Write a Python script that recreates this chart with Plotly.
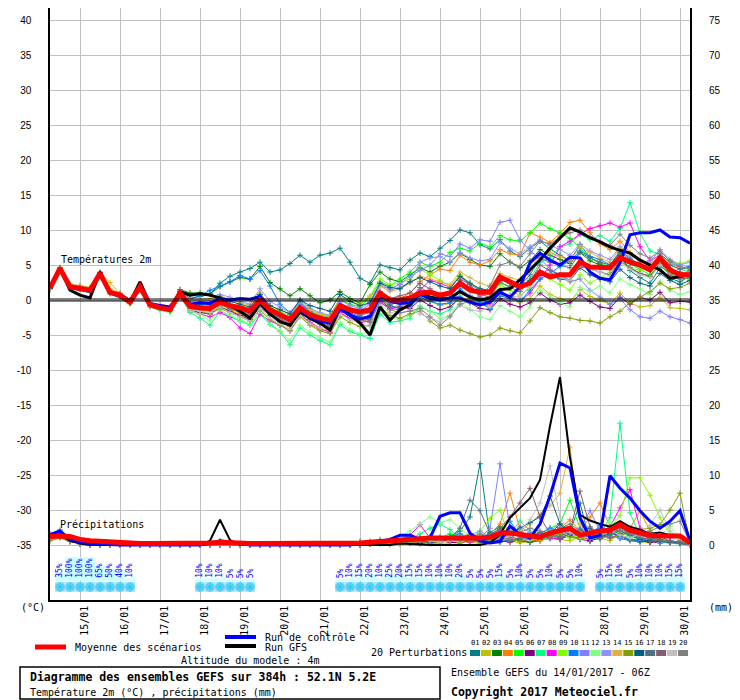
import pandas as pd
import plotly.graph_objects as go

# GEFS ensemble run 14/01/2017 06Z, point 52.1N 5.2E, 6-hourly steps up to 384h
times = pd.date_range("2017-01-14 06:00", periods=65, freq="6h")

member_names = ["01", "02", "03", "04", "05", "06", "07", "08", "09", "10",
                "11", "12", "13", "14", "15", "16", "17", "18", "19", "20"]
member_colors = ["#008080", "#c0c000", "#008000", "#ff8000", "#00ff00",
                 "#800080", "#00ff80", "#ff00ff", "#80ff00", "#0080ff",
                 "#8080ff", "#80ff80", "#9090ff", "#e0b040", "#80a000",
                 "#006080", "#507080", "#806070", "#c0c0c0", "#808080"]

# ---- 2m temperature (°C)
mean_temp = [1.7, 4.5, 1.9, 1.7, 1.4, 3.8, 1.1, 0.7, -0.3, 1.9, -0.7, -1.1, -1.4,
             1.0, -0.9, -1.1, -1.2, -0.3, -0.8, -1.1, -1.6, 0.0, -1.4,
             -2.1, -2.8, -1.1, -2.1, -2.6, -2.9, -0.8, -1.4, -1.7, -1.4,
             1.0, 0.0, 0.0, 0.3, 1.0, 1.1, 0.7, 1.0, 2.4, 1.4,
             1.1, 1.1, 3.3, 2.6, 1.9, 2.4, 4.0, 3.3, 3.6, 3.6,
             5.4, 4.7, 4.7, 4.6, 6.1, 5.4, 5.0, 4.3, 6.0, 4.3,
             3.6, 3.6]
control_temp = [1.8, 4.4, 1.8, 1.5, 1.2, 3.6, 1.0, 0.5, -0.3, 1.6, -0.5, -0.8, -1.0,
                0.9, -0.6, -0.4, -0.5, 0.2, 0.0, 0.2, 0.1, 0.5, -1.3,
                -2.2, -2.9, -1.4, -2.4, -3.0, -3.3, -1.3, -2.2, -2.7, -2.4,
                0.6, -0.2, -0.5, -0.4, 0.8, 0.2, 0.0, 0.3, 0.3, -0.3,
                -0.7, -0.3, 1.1, 0.4, 1.9, 5.3, 6.7, 5.7, 5.0, 6.1,
                6.0, 4.0, 3.1, 2.9, 5.3, 9.3, 9.6, 9.6, 10.0, 9.0,
                8.9, 8.1]
gfs_temp = [1.7, 4.5, 1.4, 0.7, 0.3, 4.0, 1.1, 0.7, -0.3, 2.6, -0.6, -1.0, -1.4,
            1.2, 0.7, 0.9, 0.7, 0.3, -0.8, -1.6, -2.6, -0.5, -2.0,
            -3.1, -3.6, -1.7, -2.6, -3.3, -4.3, -1.1, -2.1, -3.3, -5.0,
            -1.0, -2.9, -1.4, -0.7, 1.0, 0.4, 0.2, 0.3, 1.2, 0.4,
            0.0, 0.3, 1.5, 1.6, 2.9, 4.3, 5.7, 7.4, 8.9, 10.3,
            9.7, 8.9, 8.3, 7.6, 7.1, 6.7, 5.7, 5.0, 4.3, 3.1,
            3.3, 3.6]
members_temp = [
    [1.5, 4.3, 2.0, 1.8, 1.6, 3.5, 1.3, 0.9, 0.0, 2.0, -0.4, -0.8, -1.0,
     1.2, 0.2, 0.5, 0.8, 2.4, 3.4, 4.0, 4.5, 5.4, 4.0,
     4.3, 5.2, 6.4, 5.4, 6.4, 6.7, 7.4, 5.4, 3.1, 2.4,
     5.0, 4.6, 4.3, 5.7, 6.7, 6.2, 7.4, 8.5, 10.0, 9.6,
     7.9, 7.3, 8.6, 7.0, 6.2, 7.4, 8.4, 7.3, 6.4, 5.6,
     7.9, 6.1, 5.2, 4.4, 6.6, 4.2, 3.2, 2.4, 4.6, 3.1,
     2.6, 3.4],
    [1.9, 4.6, 2.2, 2.0, 1.8, 3.9, 2.5, 0.9, -0.1, 2.0, -0.6, -1.0, -1.3,
     0.8, -1.2, -1.5, -1.9, -0.9, -1.5, -2.0, -2.6, -0.8, -2.0,
     -2.8, -3.6, -1.6, -2.7, -3.4, -3.8, -1.5, -2.2, -2.8, -2.6,
     0.2, -1.0, -0.8, -0.6, 0.4, -0.2, -0.8, -0.5, 1.2, 0.2,
     -0.6, -0.9, 1.5, 0.4, -0.4, 0.2, 2.0, 0.8, 0.2, -0.2,
     1.5, 0.5, 0.0, -0.6, 1.0, -0.4, -1.0, -0.8, 0.4, -1.1,
     -1.2, -1.4],
    [1.6, 4.4, 1.8, 1.6, 1.5, 3.9, 1.2, 0.8, -0.2, 2.1, -0.5, -0.9, -1.1,
     1.5, 1.0, 1.0, 0.9, 1.9, 2.6, 3.2, 3.0, 4.8, 2.5,
     1.6, 0.6, 1.6, 0.6, -0.4, 0.0, 1.2, 0.2, -0.4, 2.2,
     4.0, 3.0, 2.6, 3.6, 4.6, 4.0, 4.8, 5.4, 6.7, 5.8,
     5.0, 4.8, 6.6, 5.4, 4.6, 5.6, 7.2, 6.4, 5.8, 5.2,
     6.8, 5.6, 5.0, 4.4, 6.0, 4.6, 3.8, 3.4, 5.2, 4.0,
     3.6, 4.2],
    [1.8, 4.5, 2.0, 1.8, 1.5, 3.8, 1.0, 0.6, -0.4, 1.8, -0.8, -1.2, -1.5,
     0.8, -1.2, -1.4, -1.6, -0.6, -1.3, -1.8, -2.4, -0.4, -2.0,
     -3.0, -3.8, -1.8, -3.4, -4.2, -4.6, -2.0, -2.6, -3.0, -2.8,
     0.8, -0.4, 0.2, 1.0, 2.6, 3.6, 4.4, 4.2, 6.4, 5.4,
     5.0, 5.6, 7.2, 6.6, 6.4, 9.6, 9.0, 8.2, 9.5, 11.1,
     11.4, 9.6, 8.0, 7.2, 8.4, 6.8, 5.6, 4.8, 6.2, 4.6,
     3.8, 4.0],
    [1.6, 4.4, 1.8, 1.5, 1.3, 3.6, 1.1, 0.7, -0.3, 1.8, -0.6, -1.0, -1.2,
     1.1, -0.5, -0.6, -0.8, 0.0, -0.6, -1.0, -1.4, 0.3, -1.0,
     -1.8, -2.5, -0.6, -1.6, -2.2, -2.4, 0.0, -0.6, -1.0, 0.4,
     2.6, 2.0, 3.0, 4.0, 5.4, 4.8, 5.4, 6.8, 7.4, 7.0,
     8.1, 7.6, 9.2, 8.6, 8.4, 9.6, 11.0, 10.2, 9.6, 8.8,
     7.4, 6.0, 5.4, 4.6, 6.4, 5.2, 4.4, 3.6, 5.0, 3.8,
     3.2, 3.0],
    [1.7, 4.5, 1.9, 1.6, 1.3, 3.7, 1.0, 0.6, -0.4, 1.8, -0.8, -1.2, -1.5,
     0.9, -1.4, -1.8, -2.0, -1.0, -1.6, -2.2, -2.8, -1.0, -2.2,
     -3.0, -3.6, -1.6, -2.8, -3.4, -3.8, -1.4, -2.0, -2.6, -2.2,
     0.0, -1.2, -1.0, -1.2, 0.0, -0.8, -1.4, -1.0, 0.4, -0.4,
     -1.2, -1.4, 0.2, -0.6, -1.0, -0.4, 1.0, 0.0, -0.6, -0.4,
     0.7, -0.2, -1.0, -1.2, 0.4, -0.6, 0.4, 0.0, 1.1, -0.4,
     -0.2, -0.3],
    [1.5, 4.3, 1.7, 1.5, 1.2, 3.5, 0.9, 0.5, -0.5, 1.6, -1.0, -1.4, -1.7,
     0.6, -1.8, -2.6, -3.6, -1.6, -2.4, -3.0, -3.6, -2.0, -3.5,
     -4.5, -6.4, -4.0, -5.0, -5.8, -6.4, -3.5, -4.5, -5.0, -5.5,
     -2.0, -3.2, -3.0, -2.6, -1.0, -1.6, -2.0, -1.4, 0.6, -0.4,
     -0.6, 0.2, 2.4, 2.0, 1.6, 3.0, 5.4, 6.0, 7.6, 8.0,
     9.4, 8.6, 9.2, 8.4, 10.2, 13.9, 9.6, 7.0, 6.6, 5.0,
     4.4, 4.0],
    [1.9, 4.6, 2.1, 1.9, 1.5, 3.9, 1.2, 0.8, -0.2, 2.0, -0.6, -1.0, -1.6,
     0.5, -1.6, -2.0, -2.4, -1.8, -2.5, -4.0, -4.8, -2.0, -3.0,
     -3.6, -4.4, -2.2, -3.2, -4.0, -4.6, -1.8, -2.6, -3.2, -3.0,
     -0.4, -1.2, -1.4, -0.8, 1.4, 2.8, 2.4, 1.8, 3.4, 2.2,
     0.4, -0.6, 1.2, 0.6, -0.2, 1.0, 3.0, 5.0, 7.6, 8.4,
     9.4, 10.2, 10.6, 11.0, 10.4, 11.0, 7.6, 5.6, 6.4, 4.4,
     4.0, 3.4],
    [1.6, 4.4, 1.9, 1.7, 1.4, 3.7, 1.0, 0.7, -0.4, 1.8, -0.7, -1.1, -1.4,
     1.0, -0.8, -1.0, -1.0, -0.2, -0.6, -0.8, -1.2, 0.4, -1.0,
     -1.6, -2.2, -0.4, -1.4, -2.0, -2.2, 0.2, -0.2, -0.6, 0.6,
     3.0, 2.2, 2.4, 3.0, 4.4, 3.6, 2.8, 2.0, 3.6, 2.4,
     1.6, 0.8, 2.2, 1.4, 0.6, 1.8, 4.0, 3.0, 2.2, 1.4,
     3.6, 2.4, 3.2, 4.0, 5.6, 4.6, 4.2, 4.6, 6.0, 5.6,
     5.2, 5.6],
    [1.8, 4.5, 2.0, 1.8, 1.4, 3.8, 1.1, 0.8, -0.2, 1.9, -0.6, -1.0, -1.3,
     1.2, 0.2, 0.6, 1.4, 2.0, 2.6, 3.5, 3.0, 4.2, 2.0,
     -0.6, -1.8, -0.4, -1.6, -2.6, -3.0, -1.0, -1.8, -2.4, -2.8,
     0.2, -0.8, -1.2, -1.0, 0.4, -0.2, -0.6, -0.4, 1.6, 0.6,
     -0.4, -1.2, 0.6, 0.2, -0.2, 1.4, 3.0, 3.8, 4.8, 5.6,
     7.0, 6.2, 5.8, 5.0, 7.0, 6.0, 5.0, 4.4, 6.6, 5.4,
     4.6, 4.8],
    [1.7, 4.4, 2.0, 1.7, 1.3, 3.6, 1.2, 0.7, -0.2, 2.2, -0.5, -0.9, -1.2,
     1.4, -0.6, -0.8, -1.0, 0.0, -0.6, -1.2, -1.6, 0.6, -1.2,
     -2.0, -2.8, -0.6, -2.0, -2.6, -3.0, -0.4, -1.2, -1.6, -0.6,
     2.0, 1.6, 2.2, 3.4, 4.2, 5.0, 6.6, 6.2, 8.0, 7.4,
     8.6, 8.4, 11.1, 11.4, 8.6, 7.0, 6.0, 4.4, 3.6, 2.6,
     3.0, 1.4, 0.4, -0.6, 0.2, -1.4, -2.4, -2.6, -1.6, -2.4,
     -2.8, -3.3],
    [1.5, 4.3, 1.8, 1.5, 1.2, 3.6, 0.9, 0.4, -0.6, 1.6, -1.0, -1.5, -1.8,
     0.6, -1.6, -2.0, -3.0, -1.4, -2.2, -2.8, -3.4, -1.6, -3.4,
     -4.4, -5.8, -3.6, -4.6, -5.4, -6.0, -3.2, -4.2, -4.8, -4.6,
     -1.4, -2.6, -2.8, -2.2, -0.8, -1.6, -2.6, -2.2, -0.2, -1.4,
     -2.4, -2.8, -0.8, -1.6, -2.4, -1.0, 1.4, 0.6, -0.4, -1.0,
     1.8, 1.2, 2.0, 1.0, 3.0, 2.2, 1.6, 0.8, 2.6, 1.4,
     0.8, 1.2],
    [1.8, 4.6, 2.1, 1.8, 1.5, 3.9, 1.2, 0.7, -0.2, 2.1, -0.4, -0.8, -1.1,
     1.4, -0.4, -0.4, -0.4, 0.8, 0.4, -0.2, -0.6, 1.6, -0.2,
     -1.0, -1.8, 0.0, -1.2, -1.8, -2.2, 0.0, -0.8, -1.2, -0.4,
     2.4, 1.4, 1.8, 2.6, 5.4, 6.0, 6.2, 5.4, 6.8, 6.0,
     5.6, 5.8, 8.2, 7.4, 6.6, 7.6, 8.6, 7.8, 7.2, 6.4,
     8.0, 7.0, 6.4, 5.8, 7.6, 6.4, 5.6, 5.4, 7.2, 5.8,
     5.0, 5.4],
    [1.9, 4.7, 2.3, 2.1, 1.8, 4.0, 1.6, 1.0, 0.0, 2.2, -0.4, -0.6, -0.9,
     1.3, 0.0, 0.1, 0.2, 0.6, 0.0, -0.4, -0.8, 1.0, -0.8,
     -1.4, -2.0, -0.2, -1.4, -2.0, -2.4, 0.4, -0.2, -0.6, 0.4,
     2.0, 1.2, 1.6, 2.4, 3.4, 3.0, 2.6, 2.2, 4.0, 3.2,
     2.4, 2.0, 3.8, 3.2, 2.8, 4.4, 6.4, 6.8, 6.2, 5.6,
     7.6, 6.8, 6.0, 5.4, 7.4, 6.4, 5.6, 5.0, 6.4, 5.2,
     4.6, 4.6],
    [1.6, 4.4, 1.8, 1.6, 1.3, 3.7, 1.0, 0.6, -0.3, 1.8, -0.8, -1.2, -1.5,
     0.9, -1.2, -1.6, -2.0, -1.2, -1.8, -2.4, -3.0, -1.4, -2.8,
     -3.6, -4.4, -2.4, -3.6, -4.4, -4.8, -2.4, -3.2, -3.8, -3.6,
     -1.0, -2.2, -2.6, -2.0, -1.6, -3.0, -4.0, -3.6, -4.3, -4.8,
     -5.3, -5.0, -4.0, -4.4, -4.7, -3.0, -1.1, -1.8, -2.4, -2.6,
     -2.9, -3.0, -3.3, -2.4, -1.6, -0.4, 0.4, 1.2, 2.4, 1.6,
     1.8, 2.4],
    [1.7, 4.5, 1.9, 1.7, 1.4, 3.8, 1.1, 0.7, -0.3, 1.9, -0.7, -1.1, -1.4,
     1.0, -0.6, -0.6, -0.6, 0.4, -0.2, -0.6, -1.0, 0.8, -0.8,
     -1.4, -2.0, 0.0, -0.8, -1.2, -1.6, 0.8, -0.2, -0.8, -0.4,
     2.4, 1.8, 1.6, 2.6, 3.2, 2.6, 2.0, 1.6, 3.4, 2.4,
     1.6, 1.4, 3.0, 2.4, 1.8, 2.8, 4.2, 3.6, 3.0, 2.8,
     4.6, 3.6, 3.0, 2.6, 4.4, 3.2, 2.4, 2.0, 3.8, 2.8,
     2.2, 2.8],
    [1.8, 4.4, 1.8, 1.6, 1.3, 3.7, 1.0, 0.6, -0.4, 1.8, -0.8, -1.2, -1.5,
     0.9, -1.0, -1.2, -1.4, -0.6, -1.2, -1.6, -2.2, -0.4, -1.8,
     -2.6, -3.4, -1.4, -2.6, -3.2, -3.6, -1.2, -2.0, -2.6, -2.8,
     0.6, -0.6, -0.4, 0.0, 1.8, 1.0, 0.4, 0.8, 3.0, 2.2,
     1.4, 1.0, 3.4, 2.6, 2.0, 3.6, 6.0, 5.4, 5.0, 4.6,
     6.8, 6.0, 5.4, 5.0, 6.8, 5.8, 5.0, 4.6, 6.2, 5.0,
     4.4, 4.6],
    [1.6, 4.4, 1.9, 1.6, 1.4, 3.9, 1.1, 0.8, -0.3, 2.0, -0.6, -1.0, -1.3,
     1.0, -0.8, -1.0, -1.2, -0.4, -1.0, -1.4, -2.0, -0.2, -1.6,
     -2.4, -3.2, -1.2, -2.2, -2.8, -3.4, -0.8, -1.6, -2.2, -1.8,
     1.2, 0.2, 0.6, 1.0, 2.4, 1.6, 0.8, 1.2, 2.8, 1.8,
     0.8, 0.4, 2.6, 1.8, 1.2, 2.6, 5.0, 4.2, 3.6, 2.8,
     4.8, 4.4, 4.0, 3.6, 5.6, 4.6, 3.8, 3.4, 5.0, 3.6,
     3.0, 3.2],
    [1.5, 4.3, 1.7, 1.5, 1.2, 3.5, 0.9, 0.5, -0.5, 1.7, -0.9, -1.3, -1.6,
     0.7, -1.4, -1.6, -1.8, -1.0, -1.8, -2.4, -3.0, -1.2, -2.6,
     -3.4, -4.2, -2.2, -3.4, -4.0, -4.4, -2.0, -2.8, -3.4, -3.8,
     -0.6, -1.8, -2.0, -1.4, -2.0, -2.6, -3.1, -2.2, -0.8, -1.4,
     -1.6, -1.0, 1.0, 0.6, 0.4, 2.0, 4.2, 3.6, 3.2, 2.8,
     5.0, 4.4, 4.0, 3.4, 5.4, 4.4, 3.6, 3.2, 5.0, 4.0,
     3.6, 3.8],
    [1.7, 4.5, 1.8, 1.6, 1.4, 3.8, 1.0, 0.6, -0.4, 1.9, -0.7, -1.1, -1.4,
     1.0, -0.9, -1.1, -1.3, -0.5, -1.1, -1.5, -2.0, -0.2, -1.6,
     -2.6, -3.4, -1.6, -2.8, -3.4, -3.8, -1.4, -2.2, -2.8, -3.2,
     -0.2, -1.4, -1.8, -1.6, -1.2, -2.4, -3.6, -2.4, -0.6, -0.2,
     0.6, 2.0, 5.0, 5.4, 4.8, 6.6, 8.4, 8.0, 9.0, 9.6,
     10.0, 9.0, 8.4, 7.8, 9.4, 7.8, 6.6, 6.0, 7.0, 5.6,
     4.8, 4.4],
]

# ---- precipitation per 6h step (mm)
mean_precip = [1.2, 1.3, 1.2, 0.8, 0.6, 0.5, 0.4, 0.3, 0.2, 0.2,
               0.2, 0.2, 0.2, 0.2, 0.2, 0.2, 0.3, 0.4, 0.3, 0.2,
               0.2, 0.2, 0.2, 0.2, 0.2, 0.2, 0.2, 0.2, 0.2,
               0.3, 0.3, 0.3, 0.4, 0.5, 0.6, 0.8, 0.8, 0.9, 1.0,
               1.0, 1.0, 1.0, 0.9, 1.0, 1.1, 1.7, 1.7, 1.5, 1.3,
               1.1, 1.7, 2.1, 2.4, 1.4, 1.7, 2.0, 2.1, 2.9, 2.1,
               1.7, 1.4, 1.3, 1.3, 1.3, 0.3]
control_precip = [1.5, 2.0, 0.8, 0.4, 0.2, 0.1, 0, 0, 0, 0,
                  0, 0, 0, 0, 0, 0, 0.2, 0.6, 0.4, 0.2,
                  0, 0, 0, 0, 0, 0, 0, 0, 0,
                  0, 0, 0.2, 0.3, 0.5, 0.8, 1.4, 1.4, 0.8, 1.0,
                  4.1, 4.6, 4.6, 1.7, 0.6, 0.3, 0.5, 2.7, 1.5, 1.0,
                  3.0, 7.0, 11.7, 11.0, 3.9, 1.0, 1.4, 9.9, 8.1, 6.7,
                  4.9, 3.4, 2.4, 3.4, 4.9, 0.6]
gfs_precip = [1.2, 1.5, 0.6, 0.2, 0, 0, 0, 0, 0, 0,
              0, 0, 0, 0, 0, 0, 0.6, 3.6, 0.7, 0,
              0, 0, 0, 0, 0, 0, 0, 0, 0,
              0, 0, 0, 0, 0.1, 0, 0.2, 0.1, 0, 0,
              0, 0, 0, 0, 0, 0.3, 1.5, 3.9, 5.3, 6.7,
              9.3, 17.0, 24.0, 12.5, 4.3, 3.5, 3.0, 2.6, 3.4, 2.6,
              2.2, 1.6, 1.8, 1.4, 1.2, 0.2]
members_precip = [
    [1.0, 1.6, 0.7, 0.3, 0.1, 0, 0, 0, 0, 0,
     0, 0, 0, 0, 0, 0, 0, 0.3, 0.2, 0,
     0, 0, 0, 0, 0, 0, 0, 0, 0,
     0, 0, 0.2, 0.4, 0.6, 0.3, 0.2, 0.5, 0.8, 0.4,
     0.6, 1.2, 2.0, 4.0, 11.6, 1.0, 0.4, 0.8, 0.6, 0.4,
     0.6, 1.2, 2.5, 1.8, 6.0, 0.5, 1.5, 2.2, 0.9, 0.6,
     0.4, 0.8, 0.5, 0.3, 0.6, 0],
    [0.8, 1.2, 0.5, 0.2, 0, 0, 0, 0, 0, 0,
     0, 0, 0, 0, 0, 0, 0, 0, 0, 0,
     0, 0, 0, 0, 0, 0, 0, 0, 0,
     0, 0, 0, 0.2, 0.3, 0, 0, 0.3, 0.5, 0.2,
     0.2, 0.3, 0.6, 0.4, 0.2, 0.8, 1.2, 0.6, 0.3, 0.5,
     1.0, 1.4, 0.8, 0.6, 1.2, 1.8, 1.0, 0.6, 1.6, 0.8,
     0.5, 0.3, 0.6, 0.4, 0.3, 0],
    [1.2, 1.4, 0.6, 0.2, 0, 0, 0, 0, 0, 0,
     0, 0, 0, 0, 0, 0, 0, 0.4, 0.3, 0.1,
     0, 0, 0, 0, 0, 0, 0, 0, 0,
     0, 0.2, 0.5, 0.3, 0.2, 0.4, 0.6, 1.0, 0.6, 0.3,
     0.4, 0.8, 1.2, 0.8, 0.6, 1.8, 2.6, 1.4, 0.6, 0.4,
     0.8, 1.6, 3.0, 2.2, 1.0, 1.6, 2.4, 1.8, 1.2, 0.8,
     0.6, 0.4, 0.8, 0.5, 0.4, 0.1],
    [1.4, 2.2, 0.8, 0.3, 0.1, 0, 0, 0, 0, 0,
     0, 0, 0, 0, 0, 0, 0, 0, 0, 0,
     0, 0, 0, 0, 0, 0, 0, 0, 0,
     0, 0, 0, 0.2, 0.3, 0.5, 0.3, 0.2, 0.4, 0.6,
     0.8, 1.0, 0.6, 0.4, 0.8, 1.6, 3.0, 7.4, 2.2, 0.8,
     0.6, 1.0, 2.4, 3.6, 2.0, 4.0, 6.0, 2.6, 1.6, 2.4,
     4.9, 2.0, 0.6, 0.4, 0.3, 0],
    [1.0, 1.5, 0.6, 0.2, 0, 0, 0, 0, 0, 0,
     0, 0, 0, 0, 0, 0, 0, 0.5, 0.3, 0.1,
     0, 0, 0, 0, 0, 0, 0, 0, 0,
     0, 0, 0.3, 0.4, 0.2, 0.5, 0.8, 0.6, 0.4, 0.6,
     1.0, 1.6, 1.2, 0.8, 0.6, 0.8, 1.4, 2.0, 1.2, 1.0,
     1.6, 2.4, 3.0, 6.4, 2.4, 1.0, 0.8, 1.4, 2.0, 1.2,
     0.8, 1.2, 0.8, 0.6, 0.4, 0],
    [0.9, 1.2, 0.5, 0.2, 0, 0, 0, 0, 0, 0,
     0, 0, 0, 0, 0, 0, 0, 0, 0, 0,
     0, 0, 0, 0, 0, 0, 0, 0, 0,
     0, 0, 0, 0.2, 0.3, 0.2, 0.4, 0.3, 0.2, 0.4,
     0.6, 0.4, 0.3, 0.6, 0.8, 1.0, 0.6, 0.4, 0.8, 1.2,
     1.6, 1.0, 0.8, 1.4, 0.8, 0.6, 1.0, 1.8, 1.2, 0.8,
     0.6, 0.4, 0.3, 0.4, 0.2, 0],
    [1.1, 1.8, 0.7, 0.3, 0.1, 0, 0, 0, 0, 0,
     0, 0, 0, 0, 0, 0, 0, 0, 0, 0,
     0, 0, 0, 0, 0, 0, 0, 0, 0,
     0, 0, 0.2, 0.3, 0.5, 0.4, 0.3, 0.8, 1.6, 2.4,
     3.0, 2.2, 1.0, 0.6, 0.4, 0.8, 1.2, 1.6, 3.4, 2.0,
     1.0, 0.8, 1.4, 2.6, 1.2, 0.8, 1.6, 3.9, 17.4, 4.6,
     1.2, 0.6, 0.4, 0.3, 0.2, 0],
    [1.3, 1.7, 0.6, 0.2, 0, 0, 0, 0, 0, 0,
     0, 0, 0, 0, 0, 0, 0, 0, 0, 0,
     0, 0, 0, 0, 0, 0, 0, 0, 0,
     0, 0, 0, 0.3, 0.6, 0.4, 0.8, 1.4, 2.9, 1.0,
     0.4, 0.6, 0.8, 0.4, 0.6, 1.0, 1.6, 1.0, 0.6, 0.8,
     1.4, 1.0, 0.8, 1.6, 1.2, 0.8, 1.8, 2.6, 5.3, 7.9,
     2.4, 1.0, 0.6, 0.4, 0.3, 0],
    [1.0, 1.4, 0.6, 0.2, 0, 0, 0, 0, 0, 0,
     0, 0, 0, 0, 0, 0, 0, 0, 0, 0,
     0, 0, 0, 0, 0, 0, 0, 0, 0,
     0, 0, 0.2, 0.2, 0.4, 0.3, 0.5, 0.4, 0.6, 0.8,
     1.0, 0.6, 0.4, 0.8, 2.0, 3.8, 5.0, 0.8, 0.6, 1.0,
     1.4, 2.2, 1.6, 1.0, 1.4, 2.0, 1.6, 2.4, 4.2, 9.6,
     9.6, 7.1, 3.9, 1.6, 0.8, 0],
    [1.6, 2.0, 1.0, 0.4, 0.1, 0, 0, 0, 0, 0,
     0, 0, 0, 0, 0, 0, 0, 0.6, 0.5, 0.2,
     0, 0, 0, 0, 0, 0, 0, 0, 0,
     0, 0, 0, 0.2, 0.4, 0.6, 0.3, 0.5, 0.8, 0.6,
     0.8, 1.2, 1.6, 1.0, 0.8, 1.6, 2.2, 3.4, 1.4, 0.8,
     1.6, 2.4, 1.8, 1.2, 0.8, 1.4, 2.8, 2.0, 1.2, 0.8,
     0.6, 0.8, 1.2, 0.6, 0.4, 0],
    [1.2, 1.5, 0.6, 0.2, 0, 0, 0, 0, 0, 0,
     0, 0, 0, 0, 0, 0, 0, 0, 0, 0,
     0, 0, 0, 0, 0, 0, 0, 0, 0,
     0, 0, 0.3, 0.5, 0.8, 0.6, 0.4, 0.6, 1.0, 0.8,
     0.6, 0.8, 1.2, 0.8, 1.0, 2.4, 11.6, 2.4, 1.0, 0.8,
     1.2, 1.6, 2.0, 1.6, 2.4, 4.9, 2.0, 1.2, 1.0, 1.4,
     0.8, 0.6, 0.4, 0.6, 0.3, 0],
    [1.0, 1.3, 0.5, 0.2, 0, 0, 0, 0, 0, 0,
     0, 0, 0, 0, 0, 0, 0, 0, 0, 0,
     0, 0, 0, 0, 0, 0, 0, 0, 0,
     0, 0, 0.2, 0.4, 0.6, 0.8, 1.2, 2.0, 3.0, 4.0,
     3.2, 3.6, 2.4, 1.2, 0.8, 1.0, 1.6, 2.4, 1.4, 0.8,
     1.0, 1.4, 2.0, 1.2, 0.8, 1.2, 2.2, 3.2, 1.8, 1.2,
     1.0, 0.8, 1.4, 2.6, 1.2, 0],
    [1.1, 1.6, 0.6, 0.3, 0, 0, 0, 0, 0, 0,
     0, 0, 0, 0, 0, 0, 0, 0, 0, 0,
     0, 0, 0, 0, 0, 0, 0, 0, 0,
     0, 0, 0, 0.2, 0.4, 0.3, 0.5, 0.8, 0.6, 0.4,
     0.6, 0.8, 1.0, 1.4, 2.0, 1.2, 0.8, 1.6, 2.6, 1.8,
     1.2, 2.0, 3.0, 2.0, 1.4, 2.4, 1.8, 1.2, 3.0, 2.0,
     1.2, 0.8, 0.6, 0.4, 0.3, 0],
    [1.3, 1.8, 0.7, 0.3, 0, 0, 0, 0, 0, 0,
     0, 0, 0, 0, 0, 0, 0, 0, 0, 0,
     0, 0, 0, 0, 0, 0, 0, 0, 0,
     0, 0, 0.3, 0.5, 0.4, 0.3, 0.6, 0.4, 0.8, 1.0,
     0.6, 0.8, 1.2, 1.6, 1.0, 0.8, 1.4, 1.2, 2.0, 3.0,
     4.4, 5.6, 7.4, 14.0, 3.0, 1.6, 1.2, 2.0, 2.8, 1.8,
     1.0, 0.8, 0.6, 0.5, 0.4, 0],
    [0.6, 1.0, 0.5, 0.2, 0, 0, 0, 0, 0, 0,
     0, 0, 0, 0, 0, 0, 0, 0, 0, 0,
     0, 0, 0, 0, 0, 0, 0, 0, 0,
     0, 0, 0, 0.2, 0.3, 0.2, 0.4, 0.3, 0.5, 0.3,
     0.4, 0.6, 0.8, 0.6, 0.4, 0.6, 1.0, 0.8, 0.6, 0.8,
     1.0, 1.2, 1.6, 1.2, 0.8, 1.2, 1.6, 1.0, 1.4, 1.8,
     2.2, 2.4, 2.9, 5.0, 7.4, 0.3],
    [1.2, 1.6, 0.7, 0.2, 0, 0, 0, 0, 0, 0,
     0, 0, 0, 0, 0, 0, 0, 0, 0, 0,
     0, 0, 0, 0, 0, 0, 0, 0, 0,
     0, 0, 0.2, 0.3, 0.5, 0.4, 0.6, 0.8, 0.6, 0.4,
     0.5, 0.8, 1.0, 1.4, 1.0, 0.8, 1.2, 1.6, 2.4, 3.2,
     4.0, 7.0, 3.0, 1.6, 2.0, 2.4, 1.2, 1.6, 2.0, 1.4,
     0.8, 0.6, 0.5, 0.4, 0.3, 0],
    [1.0, 1.3, 0.6, 0.2, 0, 0, 0, 0, 0, 0,
     0, 0, 0, 0, 0, 0, 0, 0, 0, 0,
     0, 0, 0, 0, 0, 0, 0, 0, 0,
     0, 0, 0.2, 0.3, 0.4, 0.6, 0.4, 0.8, 1.0, 1.2,
     0.8, 1.0, 2.4, 6.4, 4.9, 1.6, 0.8, 0.6, 1.0, 1.4,
     1.8, 1.4, 1.0, 1.6, 2.2, 1.4, 1.0, 1.4, 2.4, 1.6,
     1.0, 0.8, 0.6, 0.5, 0.3, 0],
    [0.9, 1.2, 0.5, 0.2, 0, 0, 0, 0, 0, 0,
     0, 0, 0, 0, 0, 0, 0, 0, 0, 0,
     0, 0, 0, 0, 0, 0, 0, 0, 0,
     0, 0, 0, 0.2, 0.3, 0.4, 0.3, 0.5, 0.4, 0.6,
     0.8, 0.6, 0.8, 1.2, 0.8, 1.4, 2.4, 4.0, 6.0, 8.1,
     4.0, 1.6, 1.2, 2.0, 7.7, 2.6, 1.4, 1.0, 1.6, 2.0,
     1.4, 1.0, 0.8, 0.6, 0.4, 0],
    [1.1, 1.4, 0.6, 0.2, 0, 0, 0, 0, 0, 0,
     0, 0, 0, 0, 0, 0, 0, 0, 0, 0,
     0, 0, 0, 0, 0, 0, 0, 0, 0,
     0, 0, 0.2, 0.3, 0.5, 0.4, 0.3, 0.6, 0.8, 0.6,
     0.4, 0.6, 0.8, 1.0, 1.4, 1.0, 0.8, 1.2, 2.0, 3.6,
     6.0, 11.3, 4.0, 1.8, 1.2, 1.0, 1.6, 2.0, 1.4, 1.0,
     1.6, 2.8, 5.0, 2.0, 1.0, 0],
    [1.0, 1.5, 0.6, 0.3, 0, 0, 0, 0, 0, 0,
     0, 0, 0, 0, 0, 0, 0, 0, 0, 0,
     0, 0, 0, 0, 0, 0, 0, 0, 0,
     0, 0, 0.3, 0.4, 0.6, 0.5, 0.4, 0.6, 0.8, 1.0,
     1.2, 0.8, 0.6, 1.0, 1.6, 1.2, 0.8, 1.0, 1.8, 2.4,
     2.0, 1.6, 2.4, 3.0, 2.0, 1.4, 1.8, 2.6, 2.0, 1.6,
     1.4, 2.0, 2.6, 3.0, 3.4, 0.4],
]

# ---- probability of snow (%) at the 6h steps where it is given
snow_steps = [1, 2, 3, 4, 5, 6, 7, 8,
              15, 16, 17, 18, 19, 20,
              29, 30, 31, 32, 33, 34, 35, 36, 37, 38, 39, 40, 41,
              42, 43, 44, 45, 46, 47, 48, 49, 50, 51, 52, 53,
              55, 56, 57, 58, 59, 60, 61, 62, 63]
snow_pct = [35, 100, 100, 100, 65, 50, 40, 10,
            10, 10, 10, 5, 5, 5,
            5, 10, 15, 20, 10, 25, 20, 15, 15, 10, 10, 10, 20,
            5, 5, 5, 15, 5, 10, 5, 5, 10, 5, 5, 10,
            5, 15, 10, 5, 10, 10, 10, 15, 15]

temp_ticks = list(range(-35, 45, 5))
precip_ticks = list(range(0, 80, 5))

# The page body has an 8px margin, so the figure is 732x692 and its plot area
# sits at page x 50..690, y 8..600.  1 °C = 7 px, 1 mm = 7 px, 0 °C at page y 300.
T_LO, T_HI = -300 / 7, 292 / 7
MONO = "DejaVu Sans Mono"


def px(x):
    return (x - 50) / 640


def py(y):
    return (600 - y) / 592


fig = go.Figure()

# temperature spaghetti
for vals, col in zip(members_temp, member_colors):
    fig.add_trace(go.Scatter(x=times[:len(vals)], y=vals, mode="lines+markers",
                             line=dict(color=col, width=1),
                             marker=dict(symbol="cross-thin", size=4, line=dict(width=1, color=col))))
fig.add_trace(go.Scatter(x=times[:len(gfs_temp)], y=gfs_temp, mode="lines",
                         line=dict(color="black", width=3)))
fig.add_trace(go.Scatter(x=times[:len(control_temp)], y=control_temp, mode="lines",
                         line=dict(color="#0000ff", width=3)))
fig.add_trace(go.Scatter(x=times[:len(mean_temp)], y=mean_temp, mode="lines",
                         line=dict(color="#ff0000", width=5)))

# snowflake band under the snow boxes
sx = times[snow_steps]
fig.add_trace(go.Scatter(x=sx, y=[-41.0] * len(sx), mode="markers",
                         marker=dict(symbol="square", size=10, color="#b4eaff")))
fig.add_trace(go.Scatter(x=sx, y=[-41.0] * len(sx), mode="markers",
                         marker=dict(symbol="circle", size=10, color="#7ccff5")))
fig.add_trace(go.Scatter(x=sx, y=[-41.0] * len(sx), mode="markers",
                         marker=dict(symbol="asterisk-open", size=7,
                                     line=dict(width=1, color="#2f86dd"))))

# precipitation spaghetti on the mm axis
for vals, col in zip(members_precip, member_colors):
    fig.add_trace(go.Scatter(x=times[:len(vals)], y=vals, mode="lines+markers", yaxis="y2",
                             line=dict(color=col, width=1),
                             marker=dict(symbol="cross-thin", size=4, line=dict(width=1, color=col))))
fig.add_trace(go.Scatter(x=times[:len(gfs_precip)], y=gfs_precip, mode="lines", yaxis="y2",
                         line=dict(color="black", width=2)))
fig.add_trace(go.Scatter(x=times[:len(control_precip)], y=control_precip, mode="lines", yaxis="y2",
                         line=dict(color="#0000ff", width=3)))
fig.add_trace(go.Scatter(x=times[:len(mean_precip)], y=mean_precip, mode="lines", yaxis="y2",
                         line=dict(color="#ff0000", width=5)))

# cyan boxes, height follows the snow probability (0 % at page y 581, 24 px per 100 %)
fig.add_trace(go.Bar(x=sx, y=snow_pct, yaxis="y3", width=6 * 3600 * 1000,
                     marker=dict(color="#ccffff", line=dict(width=0))))

ann = []
for t, p in zip(sx, snow_pct):
    ann.append(dict(x=t, y=-39.9, xref="x", yref="y", text=f"{p}%", textangle=-90,
                    showarrow=False, xanchor="center", yanchor="bottom", borderpad=0,
                    font=dict(family=MONO, size=8, color="#0000ff")))


def label(x, y, s, size=10, anchor="left"):
    ann.append(dict(x=px(x), y=py(y), xref="paper", yref="paper", text=s,
                    showarrow=False, xanchor=anchor, yanchor="middle",
                    font=dict(family=MONO, size=size, color="#000000")))


label(59, 259, "Températures 2m")
label(58, 524, "Précipitations")
label(19, 607, "(°C)")
label(707, 607, "(mm)")
label(73, 647, "Moyenne des scénarios")
label(263, 637, "Run de contrôle")
label(263, 647, "Run GFS")
label(179, 660, "Altitude du modele : 4m")
label(369, 652, "20 Perturbations")
label(28, 677, "<b>Diagramme des ensembles GEFS sur 384h : 52.1N 5.2E</b>", size=11.5)
label(28, 692, "Température 2m (°C) , précipitations (mm)")
label(449, 672, "Ensemble GEFS du 14/01/2017 - 06Z")
label(449, 692, "<b>Copyright 2017 Meteociel.fr</b>", size=11.5)

shapes = []
# double line at 0 °C
for yy in (0.14, -0.14):
    shapes.append(dict(type="line", xref="paper", yref="y", x0=0, x1=1, y0=yy, y1=yy,
                       line=dict(color="black", width=1)))
# legend samples
shapes.append(dict(type="line", xref="paper", yref="paper", x0=px(35), x1=px(66),
                   y0=py(647), y1=py(647), line=dict(color="#ff0000", width=5)))
shapes.append(dict(type="line", xref="paper", yref="paper", x0=px(225), x1=px(256),
                   y0=py(637), y1=py(637), line=dict(color="#0000ff", width=4)))
shapes.append(dict(type="line", xref="paper", yref="paper", x0=px(225), x1=px(256),
                   y0=py(646), y1=py(646), line=dict(color="black", width=4)))
shapes.append(dict(type="rect", xref="paper", yref="paper", x0=px(20), x1=px(440),
                   y0=py(667), y1=py(699), line=dict(color="black", width=1.5)))
for k, (name, col) in enumerate(zip(member_names, member_colors)):
    x0 = 470 + k * 10.95
    shapes.append(dict(type="rect", xref="paper", yref="paper", x0=px(x0), x1=px(x0 + 10),
                       y0=py(656), y1=py(650), line=dict(width=0), fillcolor=col))
    ann.append(dict(x=px(x0 + 5), y=py(643), xref="paper", yref="paper", text=name,
                    showarrow=False, xanchor="center", yanchor="middle",
                    font=dict(family=MONO, size=7, color="black")))

fig.update_layout(
    width=732, height=692,
    margin=dict(l=42, r=50, t=0, b=100),
    paper_bgcolor="white", plot_bgcolor="white",
    showlegend=False, hovermode=False,
    font=dict(family=MONO, size=10, color="black"),
    xaxis=dict(type="date", range=[times[0], times[-1]],
               tick0="2017-01-15", dtick=86400000, tickformat="%d/%m",
               tickangle=-90, ticklabelshift=5, ticks="",
               showgrid=True, gridcolor="#c0c0c0", gridwidth=1,
               showline=True, linecolor="black", linewidth=1.5,
               tickfont=dict(family=MONO, size=10)),
    yaxis=dict(range=[T_LO, T_HI], tickvals=temp_ticks,
               ticktext=[str(v) for v in temp_ticks], ticks="",
               showgrid=True, gridcolor="#c0c0c0", gridwidth=1, zeroline=False,
               showline=True, linecolor="black", linewidth=1.5, mirror=True,
               ticklabelstandoff=15,
               tickfont=dict(family="Liberation Sans", size=10)),
    yaxis2=dict(overlaying="y", side="right", range=[T_LO + 35, T_HI + 35],
                tickvals=precip_ticks, ticktext=[str(v) for v in precip_ticks],
                ticks="", showgrid=False, zeroline=False, showline=False,
                ticklabelstandoff=18,
                tickfont=dict(family="Liberation Sans", size=10)),
    yaxis3=dict(overlaying="y", range=[-79.2, 2387.5], visible=False),
    annotations=ann,
    shapes=shapes,
)

fig.write_html("out.html")
